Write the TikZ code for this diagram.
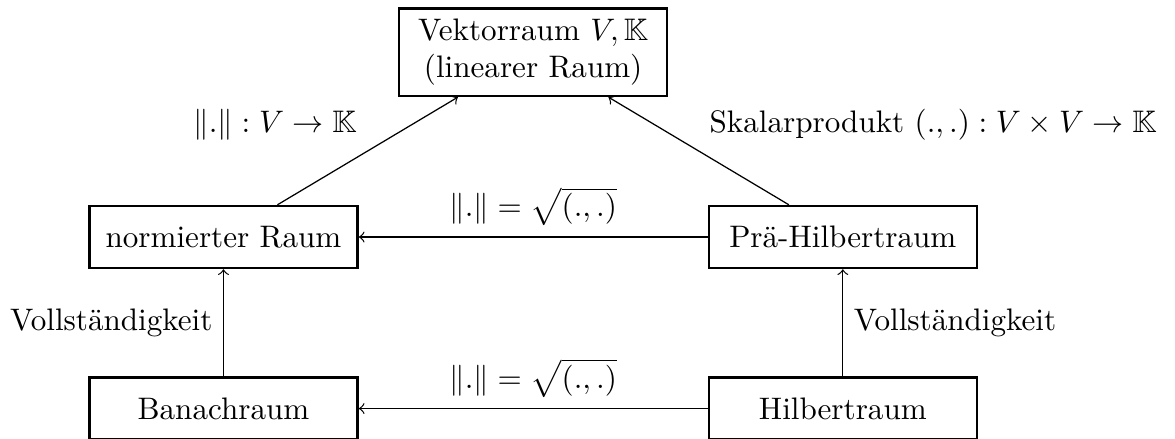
\documentclass[tikz,border=0pt]{standalone}
\usepackage{amsmath}
\usepackage{amssymb}
\usetikzlibrary{positioning}

\begin{document}
\begin{tikzpicture}[
  mybox/.style={
     rectangle,
     draw=black,
     thick,
     minimum width=3.03cm,
     minimum height=0.70cm},
  myarrow/.style={->},
  node distance=1.21cm and 3.94cm
  ]
  \useasboundingbox (-2.525,-2.282) rectangle (10.751,2.678);

  \node[mybox] (norm) {normierter Raum};
  \node[mybox, right=of norm] (prae) {Prä-Hilbertraum};
  \node[mybox, below=of norm] (banach) {Banachraum};
  \node[mybox, below=of prae] (hilbert) {Hilbertraum};

  % vector space on top
  \path (norm) -- coordinate[midway] (mitte) (prae);
  \node[mybox, align=center, above=1.58cm of mitte] (vr) {Vektorraum $V, \mathbb{K}$\\(linearer Raum)};

% edges
\draw [myarrow] (norm) -- node[above left] {$\|.\| : V \to \mathbb{K}$} (vr);
\draw [myarrow] (prae) -- node[above right] {Skalarprodukt $(.,.) : V \times V \to \mathbb{K}$} (vr);

\draw [myarrow] (prae) -- node[above] {$\|.\| = \sqrt{(.,.)}$} (norm);
\draw [myarrow] (hilbert) -- node[above] {$\|.\| = \sqrt{(.,.)}$} (banach);

\draw [myarrow] (banach) -- node[left] {Vollständigkeit} (norm);
\draw [myarrow] (hilbert) -- node[right] {Vollständigkeit} (prae);

\end{tikzpicture}
\end{document}
